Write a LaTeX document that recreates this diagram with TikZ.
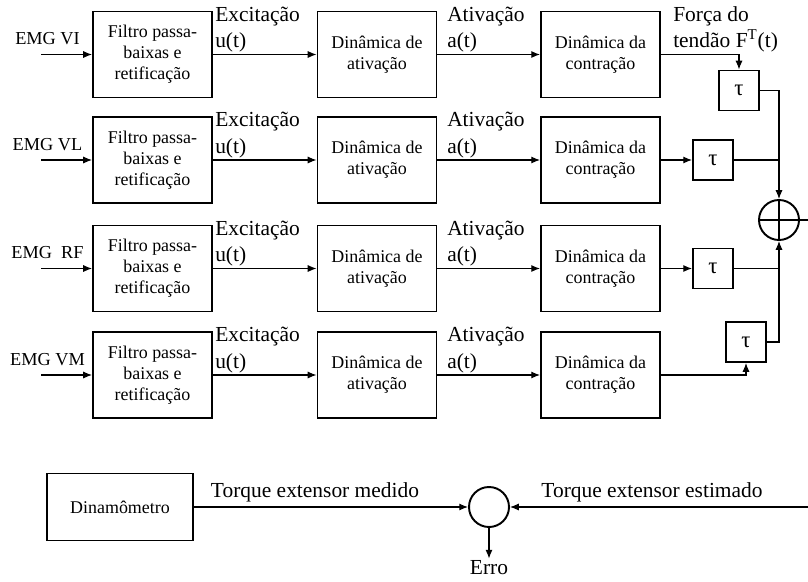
\documentclass[tikz,border=0pt]{standalone}
\usepackage{fontspec}
\setmainfont{Liberation Serif}
\usetikzlibrary{arrows.meta}

\tikzset{
  block/.style={draw, line width=1.1pt, minimum width=2.38cm, minimum height=1.72cm, align=center, font=\fontsize{10.2}{12}\selectfont},
  delay/.style={draw, line width=1.1pt, minimum size=0.8cm, inner sep=0pt, font=\fontsize{13}{14}\selectfont},
  sumnode/.style={draw, circle, line width=1.1pt, minimum size=0.8cm, inner sep=0pt},
  lbl/.style={font=\fontsize{12.2}{15}\selectfont, align=left, inner sep=1pt},
  smalltxt/.style={font=\fontsize{10.4}{12}\selectfont, inner sep=1pt}
}

\begin{document}
\begin{tikzpicture}[>={Latex[length=5pt, width=4pt]}, line width=0.6pt]
  \useasboundingbox (0,0) rectangle (16.16,11.62);

  % EMG channels
  \foreach \i/\y/\emg/\tx/\ty in {1/10.53/{EMG VI}/14.78/9.81, 2/8.42/{EMG VL}/14.26/8.42, 3/6.25/{EMG~~RF}/14.26/6.25, 4/4.12/{EMG VM}/14.92/4.78} {
    \node[smalltxt] (e\i) at (0.95, \y+0.31) {\emg};
    \coordinate (s\i) at (0.82, \y);
    \node[block] (f\i) at (3.05, \y) {Filtro passa-\\baixas e\\retificação};
    \node[block] (a\i) at (7.54, \y) {Dinâmica de\\ativação};
    \node[block] (c\i) at (12.01, \y) {Dinâmica da\\contração};
    \node[delay] (t\i) at (\tx, \ty) {τ};
    \draw[->] (s\i) -- (f\i);
    \draw[->] (f\i) -- (a\i);
    \draw[->] (a\i) -- (c\i);
    \node[lbl, anchor=south west] (u\i) at (f\i.east) {Excitação\\u(t)};
    \node[lbl, anchor=south west] (v\i) at ([xshift=0.15cm]a\i.east) {Ativação\\a(t)};
  }
  \node[lbl, anchor=south west] (ft) at ([xshift=0.2cm]c1.east) {Força do\\tendão F\textsuperscript{T}(t)};

  % Delays and summation
  \node[sumnode] (sum) at (15.58, 7.22) {};
  \draw (sum.north) -- (sum.south) (sum.west) -- (sum.east);
  \coordinate (out) at (16.16, 7.22);
  \draw[->] (c1) -| (t1);
  \draw[->] (c2) -- (t2);
  \draw[->] (c3) -- (t3);
  \draw[->] (c4) -| (t4);
  \draw[->] (t1) -| (sum);
  \draw (t2) -- (t2 -| sum);
  \draw (t3) -- (t3 -| sum);
  \draw[->] (t4) -| (sum);
  \draw (sum) -- (out);

  % Error
  \node[block, minimum width=2.92cm, minimum height=1.34cm] (dyn) at (2.4, 1.48) {Dinamômetro};
  \node[sumnode] (cmp) at (9.78, 1.48) {};
  \coordinate (est) at (16.16, 1.48);
  \node[lbl] (erro) at (9.78, 0.26) {Erro};
  \draw[->] (dyn) -- (cmp);
  \draw[->] (est) -- (cmp);
  \draw[->] (cmp) -- (erro);
  \node[lbl] (tm) at (6.3, 1.78) {Torque extensor medido};
  \node[lbl] (te) at (13.04, 1.78) {Torque extensor estimado};
\end{tikzpicture}
\end{document}
